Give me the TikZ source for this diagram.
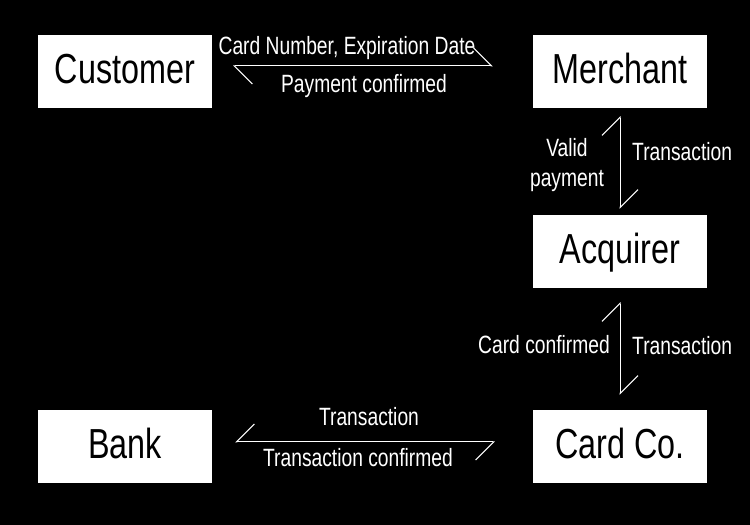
\documentclass[tikz,border=0pt]{standalone}
\usepackage{fontspec}
\setmainfont{Liberation Sans}[FakeStretch=0.77]
\usetikzlibrary{arrows.meta}
\tikzset{
  party/.style={fill=white, text=black, minimum width=174pt, minimum height=73pt,
    inner sep=0pt, text height=30pt, text depth=6pt, font=\fontsize{42}{50}\selectfont},
  msg/.style={text=white, inner sep=0pt, font=\fontsize{25}{30}\selectfont},
  flow/.style={draw=white, line width=1pt},
  barbl/.tip={Straight Barb[left,length=18pt,width=36pt]},
  barbr/.tip={Straight Barb[right,length=18pt,width=36pt]},
}
\begin{document}
\begin{tikzpicture}[x=1pt,y=1pt]
    \fill[black] (0,0) rectangle (750,525);
    \useasboundingbox (0,0) rectangle (750,525);
    \def\l{125}
    \def\r{620}
    \node[party] (cust) at (\l,453.5) {Customer};
    \node[party] (merch) at (\r,453.5) {Merchant};
    \node[party] (acq) at (\r,273.5) {Acquirer};
    \node[party] (bank) at (\l,78.5) {Bank};
    \node[party] (card) at (\r,78.5) {Card Co.};
    \draw[flow, barbl-barbl, shorten <=21pt, shorten >=40pt] ([yshift=5.5pt]cust.east) -- ([yshift=5.5pt]merch.west);
    \draw[flow, barbl-barbl, shorten <=8pt, shorten >=6pt] (merch.south) -- (acq.north);
    \draw[flow, barbl-barbl, shorten <=14pt, shorten >=15pt] (acq.south) -- (card.north);
    \draw[flow, barbr-barbr, shorten <=23pt, shorten >=38pt] ([yshift=4.5pt]bank.east) -- ([yshift=4.5pt]card.west);
    \node[msg, anchor=base] (cardno) at (347,470) {Card Number, Expiration Date};
    \node[msg, anchor=base] (payconf) at (364,432.3) {Payment confirmed};
    \node[msg, anchor=base] (valid) at (567,368) {Valid};
    \node[msg, anchor=base] (validpay) at (567,338) {payment};
    \node[msg, anchor=base west] (trmerch) at (632,364) {Transaction};
    \node[msg, anchor=base east] (cardconf) at (610,171) {Card confirmed};
    \node[msg, anchor=base west] (tracq) at (632,170) {Transaction};
    \node[msg, anchor=base] (trbank) at (369,99) {Transaction};
    \node[msg, anchor=base] (trconf) at (358,58) {Transaction confirmed};
\end{tikzpicture}
\end{document}
